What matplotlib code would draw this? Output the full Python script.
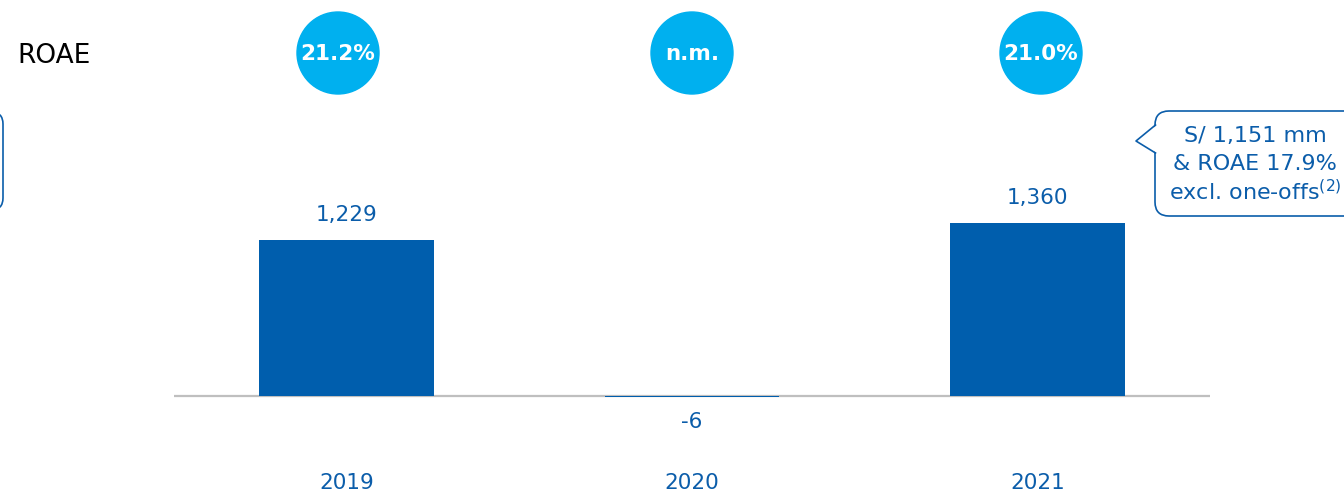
import matplotlib
matplotlib.use("Agg")
import matplotlib.pyplot as plt
from matplotlib.patches import Circle, FancyBboxPatch, Polygon
from matplotlib.lines import Line2D

years = ["2019", "2020", "2021"]
net_income = [1229, -6, 1360]
value_labels = ["1,229", "-6", "1,360"]
roae_labels = ["21.2%", "n.m.", "21.0%"]
callout_lines = ["S/ 1,151 mm", "& ROAE 17.9%", r"excl. one-offs$^{\mathregular{(2)}}$"]

BAR_BLUE = "#005EAD"
TXT_BLUE = "#0B5DAA"
CYAN = "#00B0EF"
GRID = "#BFBFBF"

plt.rcParams["font.family"] = ["DejaVu Sans"]

W, H = 1344, 493
fig = plt.figure(figsize=(W / 100, H / 100), dpi=100)

# bar axes: x from 174px to 1210px, baseline at 396px from top
ax = fig.add_axes([174 / W, 0, (1210 - 174) / W, 1])
px_per_unit = (396 - 240) / 1229.0
ax.set_xlim(-0.5, 2.5)
ax.set_ylim(-97 / px_per_unit, (H - 97) / px_per_unit)
x = list(range(len(years)))
ax.axhline(0, color=GRID, lw=1.6, zorder=1)
ax.bar(x, net_income, width=0.505, color=BAR_BLUE, zorder=2)
ax.axis("off")

pt = 72 / 100.0  # points per pixel
for i, v in enumerate(net_income):
    if v >= 0:
        ax.annotate(value_labels[i], (i, v), xytext=(0, 25 * pt), textcoords="offset points",
                    ha="center", va="center", fontsize=15.5, color=TXT_BLUE)
    else:
        ax.annotate(value_labels[i], (i, 0), xytext=(0, -26 * pt), textcoords="offset points",
                    ha="center", va="center", fontsize=15.5, color=TXT_BLUE)
    ax.annotate(years[i], (i, 0), xytext=(0, -87 * pt), textcoords="offset points",
                ha="center", va="center", fontsize=15.5, color=TXT_BLUE)

# overlay in pixel coordinates for circles and callouts
ov = fig.add_axes([0, 0, 1, 1])
ov.set_xlim(0, W)
ov.set_ylim(H, 0)
ov.axis("off")

ov.text(17, 56, "ROAE", fontsize=19, color="black", ha="left", va="center")

circle_x = [338, 692, 1041]
for cx, lab in zip(circle_x, roae_labels):
    ov.add_patch(Circle((cx, 53), 41, color=CYAN, zorder=3))
    ov.text(cx, 54, lab, fontsize=15.5, color="white", fontweight="bold",
            ha="center", va="center", zorder=4)

# left partial box
ov.add_patch(FancyBboxPatch((-60, 112), 63, 98, boxstyle="round,pad=0,rounding_size=12",
                            fc="white", ec=TXT_BLUE, lw=1.2, zorder=2))

# right callout
ov.add_patch(FancyBboxPatch((1155, 111), 220, 105, boxstyle="round,pad=0,rounding_size=14",
                            fc="white", ec=TXT_BLUE, lw=1.2, zorder=2))
ov.add_patch(Polygon([(1157, 125), (1136, 141), (1157, 153)], closed=True,
                     fc="white", ec="none", zorder=3))
ov.add_line(Line2D([1155.5, 1136, 1155.5], [125, 141, 153], color=TXT_BLUE, lw=1.2, zorder=4))
for k, line in enumerate(callout_lines):
    ov.text(1255, 136 + 28 * k, line, fontsize=16, color=TXT_BLUE,
            ha="center", va="center", zorder=5)

fig.savefig("out.png", dpi=100)
